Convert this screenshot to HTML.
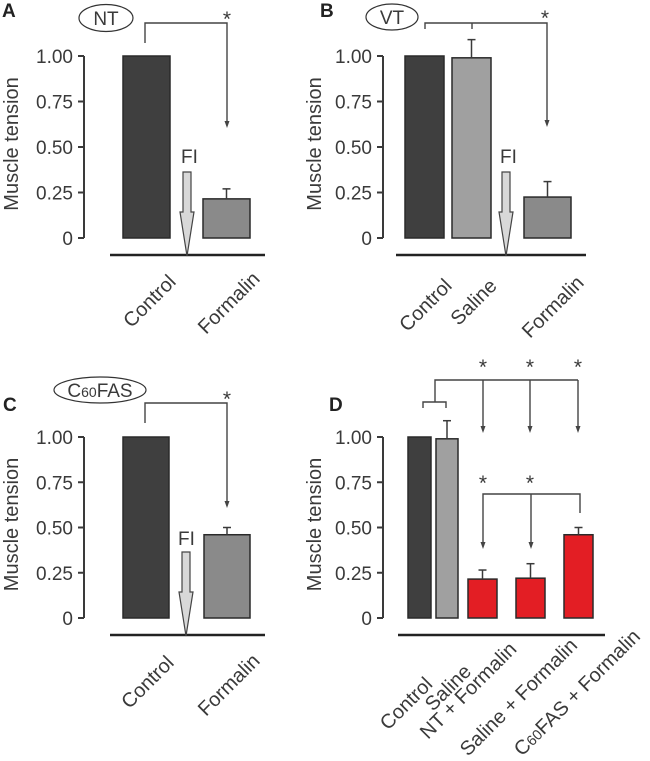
<!DOCTYPE html>
<html><head><meta charset="utf-8"><style>
body{margin:0;background:#fff}
svg{display:block;font-family:"Liberation Sans",Arial,sans-serif}
</style></head><body>
<svg id="fig" width="650" height="761" viewBox="0 0 650 761"></svg>
<script>
// ---- data ----
const panelLetters = ["A","B","C","D"];
const catsA = ["Control","Formalin"];
const valsA = [1.00, 0.215];
const errA = [1.00, 0.27];
const catsB = ["Control","Saline","Formalin"];
const valsB = [1.00, 0.99, 0.225];
const errB = [1.00, 1.09, 0.31];
const catsC = ["Control","Formalin"];
const valsC = [1.00, 0.46];
const errC = [1.00, 0.50];
const catsD = ["Control","Saline","NT + Formalin","Saline + Formalin","C60FAS + Formalin"];
const valsD = [1.00, 0.99, 0.215, 0.22, 0.46];
const errD = [1.00, 1.09, 0.265, 0.30, 0.50];
const yTicks = [0, 0.25, 0.5, 0.75, 1.0];
const yTickLabels = ["0","0.25","0.50","0.75","1.00"];

const NS="http://www.w3.org/2000/svg";
const svg=document.getElementById('fig');
function el(tag,attrs,parent,text){const e=document.createElementNS(NS,tag);for(const k in attrs)e.setAttribute(k,attrs[k]);if(text!==undefined)e.textContent=text;(parent||svg).appendChild(e);return e;}
const INK="#3a3a3a";

function axes(g,ax,y0,yScale,labelX){
  const a=el('line',{x1:ax,x2:ax,y1:yScale(0),y2:yScale(1),stroke:INK,'stroke-width':2},g);
  
  
  yTicks.forEach((t,i)=>{
    const tk=el('line',{x1:ax-6,x2:ax,y1:yScale(t),y2:yScale(t),stroke:INK,'stroke-width':2},g);
    
    
    const tl=el('text',{x:ax-11,y:yScale(t)+7,'text-anchor':'end','font-size':19,fill:INK},g,yTickLabels[i]);
    
    
  });
  const yt=el('text',{x:0,y:0,transform:`translate(${labelX},${(yScale(0)+yScale(1))/2-3}) rotate(-90)`,'text-anchor':'middle','font-size':20,fill:INK},g,"Muscle tension");
  
  
}
function bars(g,cats,vals,errs,lefts,widths,colors,yScale){
  cats.forEach((c,i)=>{
    const y=yScale(vals[i]);
    const b=el('rect',{x:lefts[i],y:y,width:widths[i],height:yScale(0)-y,fill:colors[i],stroke:'#2a2a2a','stroke-width':1.5},g);
    
    
    if(errs[i]>vals[i]+0.005){
      const cx=lefts[i]+widths[i]/2, ye=yScale(errs[i]);
      const e1=el('line',{x1:cx,x2:cx,y1:y,y2:ye,stroke:INK,'stroke-width':1.5},g);
      
      
      const e2=el('line',{x1:cx-4,x2:cx+4,y1:ye,y2:ye,stroke:INK,'stroke-width':1.5},g);
      
      
    }
  });
}
function xlabels(g,cats,pts,fs,anchor,ws){
  cats.forEach((c,i)=>{
    const t=el('text',{x:0,y:0,transform:`translate(${pts[i][0]},${pts[i][1]}) rotate(-45)`,'text-anchor':anchor,'font-size':fs,'word-spacing':ws||0,fill:INK},g);
    if(c.startsWith("C60")){
      el('tspan',{},t,"C");el('tspan',{'font-size':fs*0.72},t,"60");el('tspan',{},t,c.slice(3));
    } else t.textContent=c;
    
    
  });
}
function baseline(g,x1,x2,y){
  const l=el('line',{x1:x1,x2:x2,y1:y,y2:y,stroke:'#222','stroke-width':2.5},g);
  
  
}
function fiArrow(g,cx,ytop,ybot,tx,ty){
  const p=el('path',{d:`M${cx-4},${ytop} L${cx+4},${ytop} L${cx+4},${ytop+40} L${cx+7},${ytop+40} L${cx},${ybot} L${cx-7},${ytop+40} L${cx-4},${ytop+40} Z`,fill:'#d8d8d8',stroke:'#444','stroke-width':1.2},g);
  
  
  const t=el('text',{x:tx,y:ty,'font-size':19,fill:INK},g,"FI");
  
  
}
function line(g,pts,name){
  const p=el('polyline',{points:pts.map(p=>p.join(',')).join(' '),fill:'none',stroke:'#444','stroke-width':1.4},g);
  
  
}
function arrowHead(g,x,y){
  const p=el('path',{d:`M${x-2.5},${y-7} L${x+2.5},${y-7} L${x},${y} Z`,fill:'#444'},g);
  
  
}
function star(g,x,y){
  const t=el('text',{x:x,y:y,'text-anchor':'middle','font-size':21,fill:INK},g,"*");
  
  
}
function ellipseLabel(g,cx,cy,rx,ry,parts){
  const e=el('ellipse',{cx:cx,cy:cy,rx:rx,ry:ry,fill:'#fff',stroke:'#333','stroke-width':1.2},g);
  
  
  const t=el('text',{x:cx,y:cy+7,'text-anchor':'middle','font-size':19,fill:INK},g);
  parts.forEach(p=>el('tspan',p[1]?{'font-size':14}:{},t,p[0]));
  
  
}
function letter(g,x,y,s){
  const t=el('text',{x:x,y:y,'font-size':19,'font-weight':'bold',fill:'#222'},g,s);
  
  
}
function scaleFor(yTop,yBot){return v=>yBot-(yBot-yTop)*v;}

// Panel A
{
  const g=el('g',{});  
  const ys=scaleFor(56,238);
  letter(g,2,17,panelLetters[0]);
  ellipseLabel(g,106,18,27,13.5,[["NT"]]);
  axes(g,84,0,ys,18);
  bars(g,catsA,valsA,errA,[123,203],[47,47],['#3f3f3f','#8a8a8a'],ys);
  baseline(g,110,265,255);
  fiArrow(g,187,172,256,181,163);
  line(g,[[145,43],[145,23],[227,23],[227,125]],'significance-bracket');
  arrowHead(g,227,128);star(g,227,26);
  xlabels(g,catsA,[[177,283],[261,280]],20,'end');
}
// Panel B
{
  const g=el('g',{});  
  const ys=scaleFor(56,238);
  letter(g,320,17,panelLetters[1]);
  ellipseLabel(g,392,17,26,13,[["VT"]]);
  axes(g,383,0,ys,321);
  bars(g,catsB,valsB,errB,[405,452,524],[39,39,47],['#3f3f3f','#a0a0a0','#8a8a8a'],ys);
  baseline(g,396,586,255);
  fiArrow(g,506,172,256,500,163);
  line(g,[[425,29],[425,23],[547,23],[547,124]],'significance-bracket');
  line(g,[[472,23],[472,29]],'bracket-tick');
  arrowHead(g,547,127);star(g,545,25);
  xlabels(g,catsB,[[453,287],[498,287],[585,284]],20,'end');
}
// Panel C
{
  const g=el('g',{});  
  const ys=scaleFor(437,618);
  letter(g,3,411,panelLetters[2]);
  ellipseLabel(g,100,390,46,13,[["C"],["60",1],["FAS"]]);
  axes(g,84,0,ys,18);
  bars(g,catsC,valsC,errC,[123,204],[46,46],['#3f3f3f','#8a8a8a'],ys);
  baseline(g,110,265,635);
  fiArrow(g,186,552,636,178,545);
  line(g,[[145,423],[145,403],[227,403],[227,505]],'significance-bracket');
  arrowHead(g,227,508);star(g,227,406);
  xlabels(g,catsC,[[175,664],[261,662]],20,'end');
}
// Panel D
{
  const g=el('g',{});  
  const ys=scaleFor(437,618);
  letter(g,329,411,panelLetters[3]);
  axes(g,383,0,ys,321);
  bars(g,catsD,valsD,errD,[408,436,468,516,564],[23,22,29,29,29],['#3f3f3f','#a0a0a0','#e31e24','#e31e24','#e31e24'],ys);
  baseline(g,398,605,635);
  line(g,[[423,408],[423,402],[446,402],[446,408]],'control-saline-bracket');
  line(g,[[435,402],[435,380],[578,380]],'upper-bracket');
  [483,530,578].forEach(x=>{line(g,[[x,380],[x,429]],'upper-bracket-arrow');arrowHead(g,x,433);star(g,x,374);});
  line(g,[[483,545],[483,494],[580,494],[580,513]],'lower-bracket');
  line(g,[[531,494],[531,545]],'lower-bracket-arrow');
  arrowHead(g,483,549);arrowHead(g,531,549);
  star(g,483,490);star(g,530,490);
  xlabels(g,catsD,[[388,731],[433,712],[428,740],[468,757],[522,757]],20,'start',0);
}
</script>
</body></html>
